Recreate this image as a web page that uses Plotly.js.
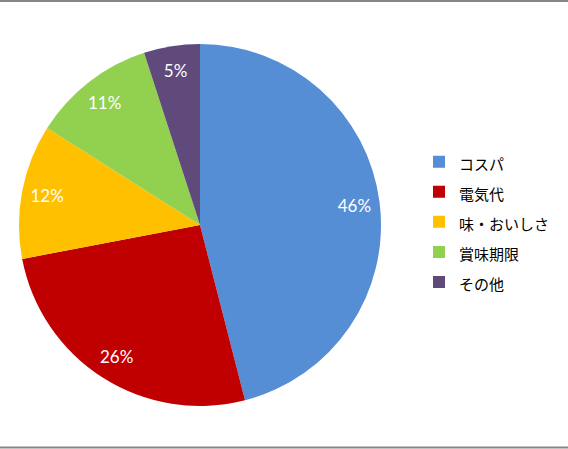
<!DOCTYPE html>
<html>
<head>
<meta charset="utf-8">
<script src="https://cdn.plot.ly/plotly-3.0.1.min.js"></script>
<style>
  html, body { margin: 0; padding: 0; background: #fff; }
  #chart { width: 568px; height: 449px; }
</style>
</head>
<body>
<div id="chart"></div>
<script>
// 回答の内訳
const labels = ['コスパ', '電気代', '味・おいしさ', '賞味期限', 'その他'];
const shares = [46, 26, 12, 11, 5];
const colors = ['#558ED5', '#C00000', '#FFC000', '#92D050', '#604A7B'];

const W = 568, H = 449;
const pieDomain = { x: [19 / W, 381 / W], y: [43 / H, 405 / H] };

// legend text is drawn smaller than the legend font so the rows get Excel's wider spacing
const legendLabels = labels.map(l => '<span style="font-size:15px">' + l + '</span>');

// filled pie, no text
const pie = {
    type: 'pie',
    labels: legendLabels,
    values: shares,
    sort: false,
    direction: 'clockwise',
    rotation: 0,
    marker: { colors: colors, line: { width: 0 } },
    textinfo: 'none',
    domain: pieDomain,
    hoverinfo: 'none'
};

// transparent ring on top that carries the percentage labels near the rim
const ring = {
    type: 'pie',
    labels: legendLabels,
    values: shares,
    sort: false,
    direction: 'clockwise',
    rotation: 0,
    hole: 0.72,
    showlegend: false,
    marker: { colors: colors.map(() => 'rgba(0,0,0,0)'), line: { width: 0 } },
    texttemplate: '%{value}%',
    textposition: 'inside',
    insidetextorientation: 'horizontal',
    textfont: { family: 'Lato, "Open Sans", sans-serif', size: 17, color: '#ffffff' },
    domain: pieDomain,
    hoverinfo: 'none'
};

const layout = {
    width: W,
    height: H,
    margin: { l: 0, r: 0, t: 0, b: 0, pad: 0 },
    paper_bgcolor: '#ffffff',
    showlegend: true,
    legend: {
        x: 419 / W,
        xanchor: 'left',
        y: 0.505,
        yanchor: 'middle',
        font: { family: '"Noto Sans CJK JP", sans-serif', size: 20.8, color: '#000000' },
        itemwidth: 30,
        traceorder: 'normal'
    },
    shapes: [
        { type: 'line', xref: 'paper', yref: 'paper', x0: 0, x1: 1, y0: 1 - 1 / H, y1: 1 - 1 / H,
          line: { color: '#868686', width: 2 } },
        { type: 'line', xref: 'paper', yref: 'paper', x0: 0, x1: 1, y0: 1.5 / H, y1: 1.5 / H,
          line: { color: '#868686', width: 2 } }
    ]
};

Plotly.newPlot('chart', [pie, ring], layout, { displayModeBar: false, staticPlot: true });
</script>
</body>
</html>
